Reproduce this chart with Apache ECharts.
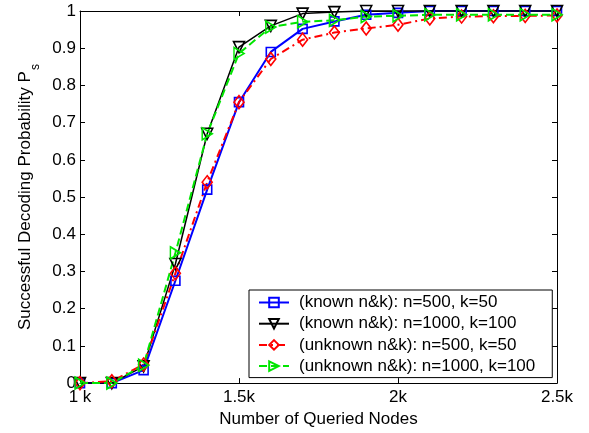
<!DOCTYPE html>
<html>
<head>
<meta charset="utf-8">
<script src="https://cdn.jsdelivr.net/npm/echarts@6/dist/echarts.min.js"></script>
<style>html,body{margin:0;padding:0;background:#fff}#c{width:589px;height:433px}</style>
</head>
<body>
<div id="c"></div>
<script>
var queriedNodes = [1000,1100,1200,1300,1400,1500,1600,1700,1800,1900,2000,2100,2200,2300,2400,2500];
var knownN500 = [0,0,0.035,0.275,0.52,0.755,0.89,0.952,0.972,0.99,0.995,1,1,1,1,1];
var knownN1000 = [0,0,0.045,0.32,0.67,0.903,0.96,0.993,0.997,1,1,1,1,1,1,1];
var unknownN500 = [0,0.005,0.05,0.295,0.54,0.755,0.871,0.923,0.942,0.953,0.963,0.98,0.985,0.986,0.987,0.988];
var unknownN1000 = [0,0,0.048,0.35,0.67,0.886,0.957,0.971,0.975,0.985,0.987,0.99,0.99,0.99,0.99,0.99];
var seriesNames = ['(known n&k): n=500, k=50','(known n&k): n=1000, k=100','(unknown n&k): n=500, k=50','(unknown n&k): n=1000, k=100'];
var xTickValues = [1000,1500,2000,2500];
var xTickLabels = ['1 k','1.5k','2k','2.5k'];

function pairs(ys){ return queriedNodes.map(function(x,i){ return [x, ys[i]]; }); }
var FONT = 'Liberation Sans';
var FS = 17;
var chart = echarts.init(document.getElementById('c'), null, {renderer:'canvas'});
function mkSeries(name, ys, color, symbol, size, rot, ltype, lw){
  return {
    name: name, type: 'line', data: pairs(ys), clip: false,
    symbol: symbol, symbolSize: size, symbolRotate: rot, showSymbol: true,
    lineStyle: {color: color, width: lw, type: ltype},
    itemStyle: {color: 'rgba(0,0,0,0)', borderColor: color, borderWidth: 1.6},
    emphasis: {disabled: true}, animation: false
  };
}
var tickStyle = {show: true, inside: true, length: 5, lineStyle: {color: '#000', width: 1}};
var option = {
  animation: false,
  backgroundColor: '#fff',
  grid: {left: 80, right: 32, top: 11, bottom: 47, show: false},
  legend: {
    left: 249, top: 290, orient: 'vertical',
    backgroundColor: '#fff', borderColor: '#000', borderWidth: 1,
    padding: [4, 17, 3, 9], itemGap: 4.2, itemWidth: 30, itemHeight: 12,
    textStyle: {fontFamily: FONT, fontSize: FS, color: '#000', lineHeight: 15, padding: [0,0,0,5]},
    data: seriesNames, z: 10
  },
  xAxis: [{
    type: 'value', min: 1000, max: 2500, interval: 500,
    name: 'Number of Queried Nodes', nameLocation: 'middle', nameGap: 27,
    nameTextStyle: {fontFamily: FONT, fontSize: FS, color: '#000'},
    axisLine: {show: true, onZero: false, lineStyle: {color: '#000', width: 1}},
    axisTick: tickStyle, splitLine: {show: false},
    axisLabel: {fontFamily: FONT, fontSize: FS, color: '#000', margin: 6,
      formatter: function(v){ var i = xTickValues.indexOf(v); return i >= 0 ? xTickLabels[i] : ''; }}
  },{
    type: 'value', min: 1000, max: 2500, interval: 500, position: 'top',
    axisLine: {show: true, onZero: false, lineStyle: {color: '#000', width: 1}},
    axisTick: tickStyle, axisLabel: {show: false}, splitLine: {show: false}
  }],
  yAxis: [{
    type: 'value', min: 0, max: 1, interval: 0.1,
    name: 'Successful Decoding Probability P{sub|s}', nameLocation: 'middle', nameGap: 46,
    nameTextStyle: {fontFamily: FONT, fontSize: FS, color: '#000',
      rich: {sub: {fontFamily: FONT, fontSize: 12, color: '#000', verticalAlign: 'bottom', padding: [0,0,-8,1]}}},
    axisLine: {show: true, onZero: false, lineStyle: {color: '#000', width: 1}},
    axisTick: tickStyle, splitLine: {show: false},
    axisLabel: {fontFamily: FONT, fontSize: FS, color: '#000', margin: 4,
      formatter: function(v){ if (Math.abs(v) < 1e-9) return '0'; if (Math.abs(v-1) < 1e-9) return '1'; return v.toFixed(1); }}
  },{
    type: 'value', min: 0, max: 1, interval: 0.1, position: 'right',
    axisLine: {show: true, onZero: false, lineStyle: {color: '#000', width: 1}},
    axisTick: tickStyle, axisLabel: {show: false}, splitLine: {show: false}
  }],
  series: [
    mkSeries(seriesNames[0], knownN500, '#0000ff', 'rect', 9, 0, 'solid', 2),
    mkSeries(seriesNames[1], knownN1000, '#000000', 'triangle', 11, 180, 'solid', 1.5),
    mkSeries(seriesNames[2], unknownN500, '#ff0000', 'diamond', [10,13], 0, [8,4,2,4], 2),
    mkSeries(seriesNames[3], unknownN1000, '#00e600', 'path://M0,0 L10,6 L0,12 Z', [10,12], 0, [8,4], 2)
  ]
};
chart.setOption(option);
</script>
</body>
</html>
